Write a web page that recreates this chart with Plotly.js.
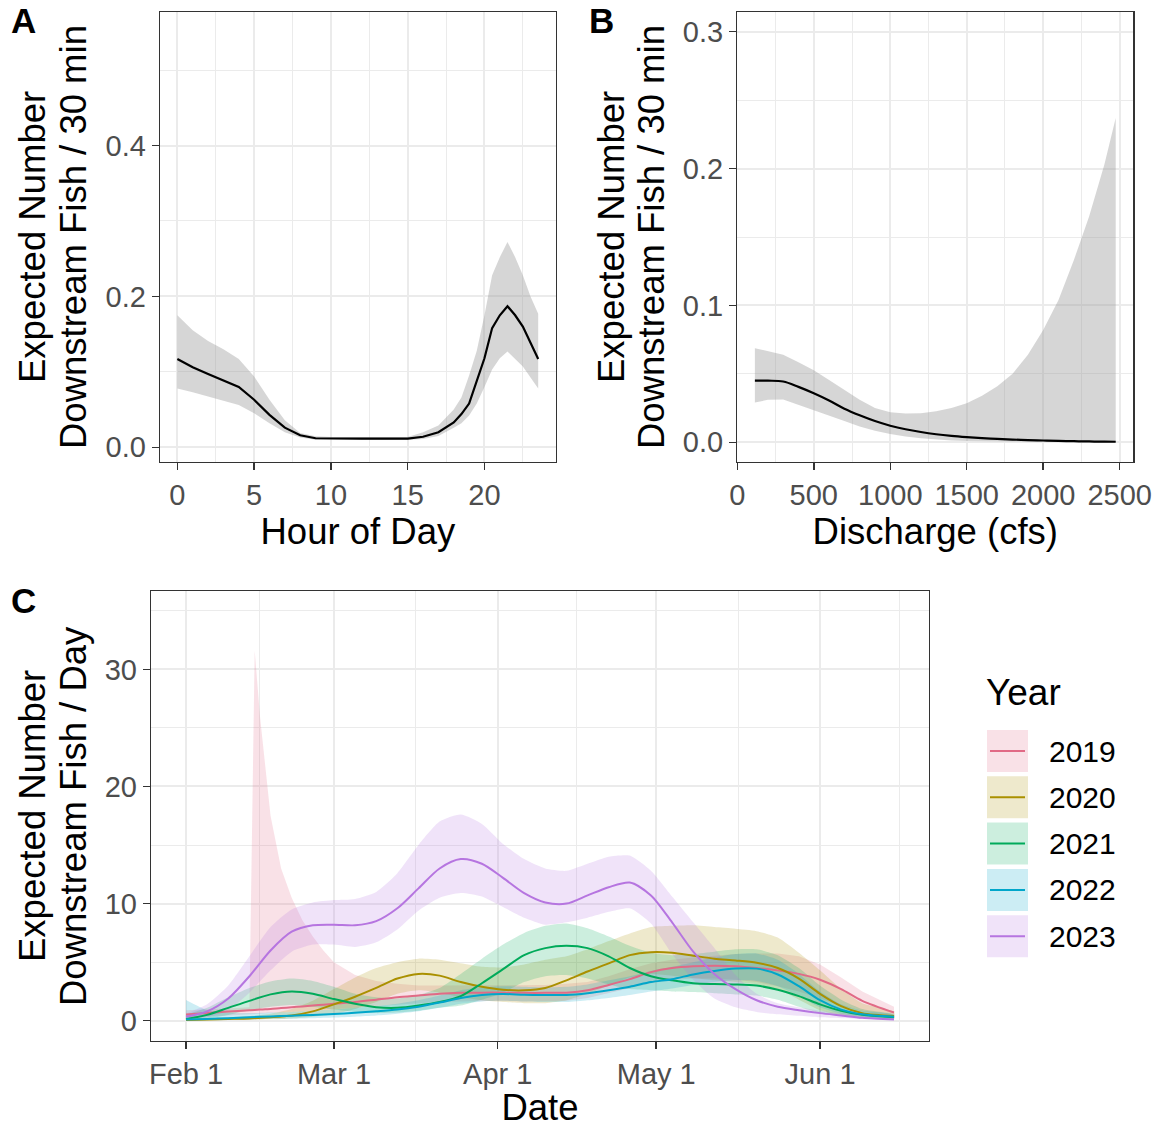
<!DOCTYPE html>
<html>
<head>
<meta charset="utf-8">
<script src="https://cdn.plot.ly/plotly-3.0.1.min.js"></script>
<style>html,body{margin:0;padding:0;background:#fff;}#chart{width:1161px;height:1128px;}</style>
</head>
<body>
<div id="chart"></div>
<script>
// ---------- Panel A: hour of day ----------
const hours   = [0,1,2,3,4,5,6,7,8,9,10,11,12,13,14,15,16,17,18,18.5,19,19.5,20,20.5,21,21.5,22,22.5,23,23.5];
const hourFit = [0.117,0.106,0.097,0.089,0.080,0.063,0.043,0.026,0.016,0.012,0.0115,0.0115,0.0115,0.0115,0.0115,0.0115,0.014,0.020,0.033,0.044,0.058,0.088,0.118,0.158,0.175,0.187,0.175,0.160,0.138,0.117];
const hourLo  = [0.078,0.073,0.067,0.062,0.056,0.045,0.032,0.020,0.013,0.010,0.0097,0.0097,0.0097,0.0097,0.0097,0.0097,0.011,0.015,0.026,0.032,0.042,0.058,0.080,0.103,0.118,0.127,0.117,0.107,0.092,0.078];
const hourHi  = [0.175,0.155,0.141,0.130,0.117,0.094,0.063,0.036,0.019,0.0145,0.0135,0.0135,0.0135,0.0135,0.0135,0.0135,0.020,0.029,0.050,0.066,0.095,0.128,0.175,0.228,0.252,0.272,0.252,0.228,0.200,0.177];

// ---------- Panel B: discharge ----------
const discharge    = [115,200,300,400,500,600,700,800,900,1000,1100,1200,1300,1400,1500,1600,1700,1800,1900,2000,2100,2200,2300,2400,2474];
const dischargeFit = [0.0451,0.0450,0.0444,0.0405,0.0358,0.0305,0.0245,0.0197,0.0155,0.0121,0.0095,0.0075,0.0059,0.0047,0.0038,0.0031,0.0025,0.0020,0.0016,0.0013,0.0010,0.0008,0.0006,0.0005,0.0004];
const dischargeLo  = [0.0290,0.0310,0.0312,0.0270,0.0235,0.0195,0.0155,0.0115,0.0085,0.0060,0.0042,0.0029,0.0020,0.0014,0.0010,0.0007,0.0005,0.0004,0.0003,0.0002,0.0001,0.0001,0.0001,0.0000,0.0000];
const dischargeHi  = [0.0688,0.0665,0.0639,0.0585,0.0527,0.0455,0.0380,0.0310,0.0250,0.0220,0.0210,0.0212,0.0226,0.0250,0.0285,0.0340,0.0410,0.0500,0.0640,0.0820,0.1040,0.1330,0.1650,0.2030,0.2370];

// ---------- Panel C: date by year ----------
const years = ['2019','2020','2021','2022','2023'];

const dates2019 = ['2019-02-01','2019-02-05','2019-02-09','2019-02-13','2019-02-14','2019-02-15','2019-02-16','2019-02-17','2019-02-19','2019-02-21','2019-02-23','2019-02-25','2019-02-27','2019-03-01','2019-03-05','2019-03-09','2019-03-13','2019-03-17','2019-03-21','2019-03-25','2019-03-29','2019-04-02','2019-04-06','2019-04-10','2019-04-14','2019-04-18','2019-04-22','2019-04-26','2019-04-30','2019-05-04','2019-05-08','2019-05-12','2019-05-16','2019-05-20','2019-05-24','2019-05-28','2019-06-01','2019-06-05','2019-06-09','2019-06-15'];
const fit2019 = [0.54,0.65,0.78,0.90,0.92,0.95,0.98,1.00,1.08,1.15,1.22,1.30,1.37,1.45,1.60,1.80,2.00,2.15,2.30,2.38,2.40,2.40,2.38,2.38,2.40,2.60,3.05,3.55,4.15,4.50,4.65,4.70,4.65,4.50,4.30,4.00,3.50,2.70,1.70,0.70];
const lo2019  = [0.25,0.35,0.45,0.55,0.58,0.60,0.62,0.65,0.70,0.75,0.80,0.85,0.90,0.95,1.10,1.25,1.40,1.50,1.60,1.65,1.70,1.70,1.65,1.65,1.70,1.95,2.40,2.80,3.20,3.50,3.60,3.60,3.50,3.30,2.95,2.50,1.90,1.30,0.80,0.30];
const hi2019  = [0.90,0.95,1.05,1.15,31.6,26.0,21.5,17.5,13.0,10.5,8.6,7.2,6.0,5.0,3.9,3.4,3.15,3.0,3.0,3.0,3.0,3.0,3.0,3.05,3.15,3.30,3.80,4.40,4.90,5.20,5.40,5.55,5.70,5.75,5.75,5.50,4.80,3.70,2.50,1.20];

const dates = ['2019-02-01','2019-02-05','2019-02-09','2019-02-13','2019-02-17','2019-02-21','2019-02-25','2019-03-01','2019-03-05','2019-03-09','2019-03-13','2019-03-17','2019-03-21','2019-03-25','2019-03-29','2019-04-02','2019-04-06','2019-04-10','2019-04-14','2019-04-18','2019-04-22','2019-04-26','2019-04-30','2019-05-04','2019-05-08','2019-05-12','2019-05-16','2019-05-20','2019-05-24','2019-05-28','2019-06-01','2019-06-05','2019-06-09','2019-06-15'];

const fit2020 = [0.06,0.10,0.15,0.20,0.30,0.45,0.80,1.40,2.05,2.80,3.60,4.00,3.85,3.30,2.90,2.65,2.60,2.80,3.45,4.20,4.90,5.60,5.85,5.80,5.55,5.30,5.15,4.95,4.50,3.60,2.30,1.25,0.65,0.40];
const lo2020  = [0.02,0.04,0.06,0.10,0.12,0.20,0.35,0.55,1.00,1.60,2.30,2.60,2.40,2.00,1.75,1.60,1.50,1.50,1.75,2.30,3.00,3.70,4.00,3.85,3.65,3.45,3.30,3.10,2.70,1.80,0.90,0.50,0.30,0.20];
const hi2020  = [0.10,0.20,0.30,0.40,0.60,1.00,1.70,2.70,3.70,4.50,5.00,5.30,5.20,4.90,4.60,4.55,4.80,5.20,5.50,6.10,6.80,7.45,8.00,8.10,8.15,8.00,7.85,7.65,7.10,5.80,4.30,2.70,1.50,0.77];

const fit2021 = [0.15,0.50,1.10,1.70,2.25,2.50,2.30,1.85,1.45,1.15,1.10,1.30,1.60,2.10,3.20,4.40,5.60,6.20,6.40,6.20,5.50,4.50,3.80,3.45,3.20,3.13,3.10,3.00,2.65,2.10,1.40,0.85,0.50,0.30];
const lo2021  = [0.02,0.20,0.50,0.90,1.20,1.35,1.20,0.95,0.75,0.65,0.70,0.85,1.10,1.30,1.80,2.40,3.30,3.80,3.90,3.60,3.10,2.70,2.60,2.50,2.45,2.35,2.25,2.15,1.80,1.20,0.65,0.40,0.25,0.20];
const hi2021  = [0.50,1.10,2.00,2.80,3.35,3.60,3.40,2.90,2.30,2.00,1.90,2.20,2.80,4.00,5.30,6.50,7.50,8.10,8.30,7.90,7.20,6.40,5.80,5.60,5.70,5.90,6.10,6.10,5.60,4.50,3.00,1.80,1.00,0.50];

const fit2022 = [0.10,0.15,0.22,0.30,0.37,0.43,0.50,0.58,0.68,0.80,0.95,1.20,1.55,1.95,2.20,2.28,2.22,2.20,2.20,2.35,2.60,2.90,3.30,3.55,3.95,4.25,4.45,4.45,3.95,2.95,1.75,0.95,0.55,0.34];
const lo2022  = [0.00,0.03,0.06,0.10,0.14,0.18,0.22,0.28,0.35,0.45,0.60,0.80,1.10,1.45,1.65,1.70,1.65,1.60,1.60,1.75,1.95,2.20,2.50,2.75,3.05,3.30,3.45,3.40,2.95,2.10,1.15,0.60,0.35,0.20];
const hi2022  = [1.76,0.90,0.70,0.65,0.70,0.75,0.85,0.95,1.10,1.25,1.45,1.75,2.15,2.60,2.85,2.95,2.90,2.85,2.90,3.10,3.45,3.80,4.25,4.60,5.00,5.40,5.70,5.75,5.20,4.00,2.50,1.40,0.85,0.55];

const fit2023 = [0.34,0.80,1.90,3.80,6.00,7.60,8.15,8.20,8.15,8.50,9.60,11.30,13.00,13.80,13.40,12.20,10.90,10.10,10.00,10.70,11.40,11.80,10.70,8.40,5.90,4.00,2.70,1.75,1.20,0.90,0.65,0.45,0.25,0.11];
const lo2023  = [0.10,0.30,0.90,2.40,4.30,5.90,6.50,6.50,6.30,6.70,7.80,9.40,10.50,10.90,10.60,9.70,8.80,8.20,8.40,8.80,9.30,9.60,8.30,5.70,3.50,1.90,1.15,0.75,0.55,0.42,0.30,0.22,0.16,0.10];
const hi2023  = [0.60,1.40,3.00,5.50,8.00,9.50,10.10,10.30,10.40,11.00,12.60,15.00,17.00,17.60,16.80,15.10,13.80,13.00,12.80,13.40,14.00,14.10,12.80,10.60,8.40,6.20,3.90,2.30,1.50,1.15,0.85,0.65,0.48,0.34];

const dateTickVals  = ['2019-02-01','2019-03-01','2019-04-01','2019-05-01','2019-06-01'];
const dateTickText  = ['Feb 1','Mar 1','Apr 1','May 1','Jun 1'];
const dateMinorVals = ['2019-02-15','2019-03-16 12:00','2019-04-16','2019-05-16 12:00','2019-06-16'];

// ---------- styling ----------
const yearColors = ['#E16A86','#AA9000','#00AA5A','#00A6CA','#B675E0'];
function rgba(hex, a){
  const n = parseInt(hex.slice(1),16);
  return 'rgba('+((n>>16)&255)+','+((n>>8)&255)+','+(n&255)+','+a+')';
}
const FONT = 'Liberation Sans, Arial, sans-serif';
const TICKF = {family: FONT, size: 29, color: '#4D4D4D'};
const TITLEF = {family: FONT, size: 36.5, color: '#000000'};

const panelC = [
  {x: dates2019, fit: fit2019, lo: lo2019, hi: hi2019, shape: 'linear'},
  {x: dates, fit: fit2020, lo: lo2020, hi: hi2020, shape: 'spline'},
  {x: dates, fit: fit2021, lo: lo2021, hi: hi2021, shape: 'spline'},
  {x: dates, fit: fit2022, lo: lo2022, hi: hi2022, shape: 'spline'},
  {x: dates, fit: fit2023, lo: lo2023, hi: hi2023, shape: 'spline'}
];

function band(x, lo, hi, fill, xa, ya, shape){
  return {
    x: x.concat(x.slice().reverse()),
    y: hi.concat(lo.slice().reverse()),
    type: 'scatter', mode: 'lines', fill: 'toself', fillcolor: fill,
    line: {width: 0, color: 'rgba(0,0,0,0)', shape: shape || 'linear', smoothing: 0.6},
    xaxis: xa, yaxis: ya, hoverinfo: 'skip', showlegend: false
  };
}

const traces = [];
traces.push(band(hours, hourLo, hourHi, 'rgba(153,153,153,0.4)', 'x', 'y', 'linear'));
traces.push({x: hours, y: hourFit, type: 'scatter', mode: 'lines', line: {color: '#000', width: 2.2}, xaxis: 'x', yaxis: 'y', showlegend: false});
traces.push(band(discharge, dischargeLo, dischargeHi, 'rgba(153,153,153,0.4)', 'x2', 'y2', 'linear'));
traces.push({x: discharge, y: dischargeFit, type: 'scatter', mode: 'lines', line: {color: '#000', width: 2.2, shape: 'spline'}, xaxis: 'x2', yaxis: 'y2', showlegend: false});
panelC.forEach((s, i) => traces.push(band(s.x, s.lo, s.hi, rgba(yearColors[i], 0.2), 'x3', 'y3', s.shape)));
panelC.forEach((s, i) => traces.push({x: s.x, y: s.fit, type: 'scatter', mode: 'lines', name: years[i],
  line: {color: yearColors[i], width: 2, shape: 'spline', smoothing: 0.8}, xaxis: 'x3', yaxis: 'y3', showlegend: false}));

function axisBase(extra){
  return Object.assign({
    showline: true, mirror: true, linecolor: '#333333', linewidth: 1.3,
    ticks: 'outside', ticklen: 7, tickwidth: 1.5, tickcolor: '#333333',
    showgrid: true, gridcolor: '#EBEBEB', gridwidth: 2,
    zeroline: false, tickfont: TICKF, automargin: false
  }, extra);
}
function minorGrid(vals){
  return {showgrid: true, gridcolor: '#EBEBEB', gridwidth: 1, ticks: '', tickvals: vals};
}

const W = 1161, H = 1128;
const px = v => v / W, py = v => 1 - v / H;

const layout = {
  width: W, height: H,
  margin: {l: 0, r: 0, t: 0, b: 0},
  paper_bgcolor: '#ffffff', plot_bgcolor: '#ffffff',
  font: {family: FONT},
  showlegend: false,
  xaxis: axisBase({domain: [px(160), px(555.7)], range: [-1.13, 24.64], tickvals: [0,5,10,15,20],
    minor: minorGrid([2.5,7.5,12.5,17.5,22.5]),
    anchor: 'y', title: {text: 'Hour of Day', font: TITLEF, standoff: 6}}),
  yaxis: axisBase({domain: [py(462), py(12)], range: [-0.0195, 0.577], tickvals: [0,0.2,0.4], ticktext: ['0.0','0.2','0.4'],
    minor: minorGrid([0.1,0.3,0.5]), anchor: 'x'}),
  xaxis2: axisBase({domain: [px(737.3), px(1133.3)], range: [0, 2589], tickvals: [0,500,1000,1500,2000,2500],
    minor: minorGrid([250,750,1250,1750,2250]),
    anchor: 'y2', title: {text: 'Discharge (cfs)', font: TITLEF, standoff: 6}}),
  yaxis2: axisBase({domain: [py(462), py(12)], range: [-0.0144, 0.3144], tickvals: [0,0.1,0.2,0.3], ticktext: ['0.0','0.1','0.2','0.3'],
    minor: minorGrid([0.05,0.15,0.25]), anchor: 'x2'}),
  xaxis3: axisBase({domain: [px(151), px(929)], type: 'date', range: ['2019-01-25 09:00', '2019-06-21 15:00'],
    tickmode: 'array', tickvals: dateTickVals, ticktext: dateTickText,
    minor: minorGrid(dateMinorVals),
    anchor: 'y3', title: {text: 'Date', font: TITLEF, standoff: 6}}),
  yaxis3: axisBase({domain: [py(1041), py(591)], range: [-1.73, 36.69], tickvals: [0,10,20,30],
    minor: minorGrid([5,15,25,35]), anchor: 'x3'}),
  annotations: [],
  shapes: []
};

// y-axis titles (two lines, ggplot spacing)
[[32, 73, 237, 'Expected Number', 'Downstream Fish / 30 min'],
 [611, 651, 237, 'Expected Number', 'Downstream Fish / 30 min'],
 [32, 73, 816, 'Expected Number', 'Downstream Fish / Day']].forEach(([x1, x2, yc, l1, l2]) => {
  [[x1, l1], [x2, l2]].forEach(([x, t]) => layout.annotations.push({
    text: t, xref: 'paper', yref: 'paper', x: px(x), y: py(yc), xanchor: 'center', yanchor: 'middle',
    textangle: -90, showarrow: false, font: TITLEF
  }));
});

// panel letters
[['A', 23, 21], ['B', 601, 21], ['C', 23, 600]].forEach(([t, x, y]) => layout.annotations.push({
  text: '<b>' + t + '</b>', xref: 'paper', yref: 'paper', x: px(x), y: py(y), xanchor: 'center', yanchor: 'middle',
  showarrow: false, font: {family: FONT, size: 35, color: '#000'}
}));

// legend (ggplot style keys)
layout.annotations.push({text: 'Year', xref: 'paper', yref: 'paper', x: px(984), y: py(692), xanchor: 'left', yanchor: 'middle',
  showarrow: false, font: {family: FONT, size: 37, color: '#000'}});
years.forEach((yr, i) => {
  const cy = 751 + i * 46.3;
  layout.shapes.push({type: 'rect', xref: 'paper', yref: 'paper', x0: px(987), x1: px(1028), y0: py(cy - 21), y1: py(cy + 21),
    fillcolor: rgba(yearColors[i], 0.2), line: {width: 0}});
  layout.shapes.push({type: 'line', xref: 'paper', yref: 'paper', x0: px(990), x1: px(1025), y0: py(cy), y1: py(cy),
    line: {color: yearColors[i], width: 2}});
  layout.annotations.push({text: yr, xref: 'paper', yref: 'paper', x: px(1047), y: py(cy), xanchor: 'left', yanchor: 'middle',
    showarrow: false, font: {family: FONT, size: 30, color: '#000'}});
});

Plotly.newPlot('chart', traces, layout, {staticPlot: true, displayModeBar: false});
</script>
</body>
</html>
